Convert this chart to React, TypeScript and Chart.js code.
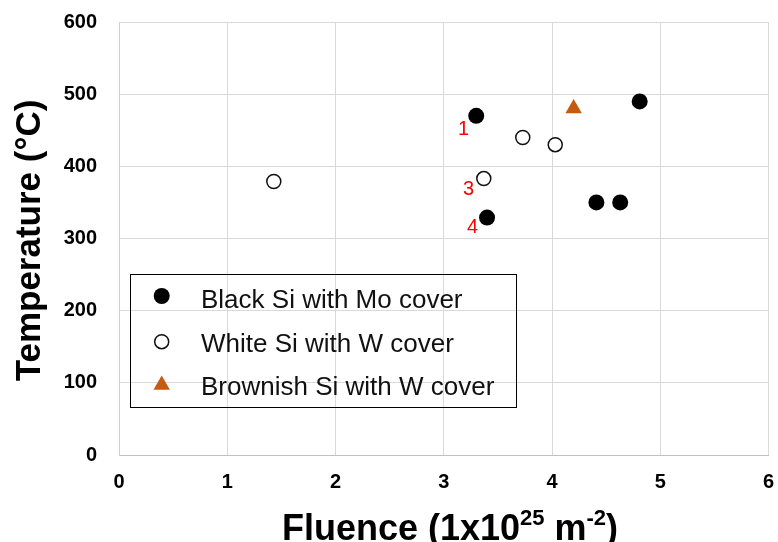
import React, { useEffect, useRef } from 'react';
import { Chart, registerables } from 'chart.js';

Chart.register(...registerables);

// Fluence (1x10^25 m^-2) and temperature (°C) for each sample group
const blackMoX = [3.3, 4.81, 3.4, 4.41, 4.63];
const blackMoY = [470, 490, 329, 350, 350];
const whiteWX = [1.43, 3.73, 4.03, 3.37];
const whiteWY = [379, 440, 430, 383];
const brownWX = [4.2];
const brownWY = [480];

const seriesNames = [
  'Black Si with Mo cover',
  'White Si with W cover',
  'Brownish Si with W cover',
];

const xTickValues = [0, 1, 2, 3, 4, 5, 6];
const yTickValues = [0, 100, 200, 300, 400, 500, 600];

// Sample numbers written next to individual points: [text, series, point index]
const sampleTags: [string, number, number][] = [
  ['1', 0, 0],
  ['3', 1, 3],
  ['4', 0, 2],
];

const FONT = "'Liberation Sans', Arial, sans-serif";
const BROWN = '#c55a11';

const toPoints = (xs: number[], ys: number[]) => xs.map((x, i) => ({ x, y: ys[i] }));

function drawMarker(ctx: CanvasRenderingContext2D, kind: number, x: number, y: number) {
  ctx.save();
  if (kind === 0) {
    ctx.fillStyle = '#000';
    ctx.beginPath();
    ctx.arc(x, y, 8, 0, Math.PI * 2);
    ctx.fill();
  } else if (kind === 1) {
    ctx.fillStyle = '#fff';
    ctx.strokeStyle = '#111';
    ctx.lineWidth = 1.5;
    ctx.beginPath();
    ctx.arc(x, y, 7, 0, Math.PI * 2);
    ctx.fill();
    ctx.stroke();
  } else {
    const r = 9.5;
    ctx.fillStyle = BROWN;
    ctx.beginPath();
    for (let k = 0; k < 3; k++) {
      const a = (k * 2 * Math.PI) / 3;
      const px = x + Math.sin(a) * r;
      const py = y - Math.cos(a) * r;
      if (k === 0) ctx.moveTo(px, py);
      else ctx.lineTo(px, py);
    }
    ctx.closePath();
    ctx.fill();
  }
  ctx.restore();
}

const decorations = {
  id: 'decorations',
  afterDraw(chart: any) {
    const ctx: CanvasRenderingContext2D = chart.ctx;
    const { chartArea } = chart;

    // Sample number tags beside their points
    const tagOffsets: Record<string, [number, number]> = {
      '1': [-12.7, 12.7],
      '3': [-15.3, 9.6],
      '4': [-14.4, 9.4],
    };
    ctx.save();
    ctx.fillStyle = '#ff0000';
    ctx.font = `20px ${FONT}`;
    ctx.textAlign = 'center';
    ctx.textBaseline = 'middle';
    sampleTags.forEach(([text, ds, idx]) => {
      const el = chart.getDatasetMeta(ds).data[idx];
      const [dx, dy] = tagOffsets[text];
      ctx.fillText(text, el.x + dx, el.y + dy + 1);
    });
    ctx.restore();

    // Legend box inside the plot
    const lx = 130.5;
    const ly = 274.5;
    ctx.save();
    ctx.strokeStyle = '#000';
    ctx.lineWidth = 1;
    ctx.strokeRect(lx, ly, 386, 133);
    ctx.fillStyle = '#111';
    ctx.font = `26px ${FONT}`;
    ctx.textAlign = 'left';
    ctx.textBaseline = 'alphabetic';
    const rowMarkerY = [296, 341.7, 385];
    const rowBaseline = [307.5, 352, 394.5];
    seriesNames.forEach((name, i) => {
      drawMarker(ctx, i, 161.7, rowMarkerY[i]);
      ctx.fillText(name, 201, rowBaseline[i]);
    });
    ctx.restore();

    // Y axis title
    ctx.save();
    ctx.fillStyle = '#000';
    ctx.font = `bold 35px ${FONT}`;
    ctx.textAlign = 'center';
    ctx.textBaseline = 'alphabetic';
    ctx.translate(40, (chartArea.top + chartArea.bottom) / 2 + 2);
    ctx.rotate(-Math.PI / 2);
    ctx.fillText('Temperature (°C)', 0, 0);
    ctx.restore();

    // X axis title with superscripts
    ctx.save();
    ctx.fillStyle = '#000';
    ctx.textBaseline = 'alphabetic';
    ctx.textAlign = 'left';
    const big = `bold 36px ${FONT}`;
    const small = `bold 22px ${FONT}`;
    const parts: [string, string, number][] = [
      ['Fluence (1x10', big, 0],
      ['25', small, -15],
      [' m', big, 0],
      ['-2', small, -15],
      [')', big, 0],
    ];
    let total = 0;
    parts.forEach(([t, f]) => {
      ctx.font = f;
      total += ctx.measureText(t).width;
    });
    let x = 450 - total / 2;
    const base = 540;
    parts.forEach(([t, f, dy]) => {
      ctx.font = f;
      ctx.fillText(t, x, base + dy);
      x += ctx.measureText(t).width;
    });
    ctx.restore();
  },
};

// Keep the plot area fixed by dropping the label overhang padding
const noOverhang = (scale: any) => {
  scale.paddingLeft = 0;
  scale.paddingRight = 0;
  scale.paddingTop = 0;
  scale.paddingBottom = 0;
};

export default function App() {
  const canvasRef = useRef<HTMLCanvasElement>(null);

  useEffect(() => {
    const canvas = canvasRef.current;
    if (!canvas) return;
    Chart.defaults.font.family = FONT;

    const tickFont = { family: FONT, size: 20, weight: 'bold' as const };

    const chart = new Chart(canvas, {
      type: 'scatter',
      data: {
        datasets: [
          {
            label: seriesNames[0],
            data: toPoints(blackMoX, blackMoY),
            pointStyle: 'circle',
            pointRadius: 8,
            backgroundColor: '#000',
            borderColor: '#000',
            borderWidth: 0,
          },
          {
            label: seriesNames[1],
            data: toPoints(whiteWX, whiteWY),
            pointStyle: 'circle',
            pointRadius: 7,
            backgroundColor: '#fff',
            borderColor: '#111',
            borderWidth: 1.5,
          },
          {
            label: seriesNames[2],
            data: toPoints(brownWX, brownWY),
            pointStyle: 'triangle',
            pointRadius: 9.5,
            backgroundColor: BROWN,
            borderColor: BROWN,
            borderWidth: 0,
          },
        ],
      },
      options: {
        animation: false,
        responsive: false,
        maintainAspectRatio: false,
        layout: { padding: { top: 22, right: 8, left: 0, bottom: 0 } },
        plugins: {
          legend: { display: false },
          tooltip: { enabled: false },
        },
        scales: {
          x: {
            type: 'linear',
            min: 0,
            max: 6,
            afterBuildTicks: (scale: any) => {
              scale.ticks = xTickValues.map((value) => ({ value }));
            },
            ticks: { color: '#000', font: tickFont, padding: 15, maxRotation: 0 },
            grid: { color: '#d9d9d9', lineWidth: 1, drawTicks: false },
            border: { color: '#bfbfbf', width: 1 },
            afterFit: (scale: any) => {
              scale.height = 87;
              noOverhang(scale);
            },
          },
          y: {
            type: 'linear',
            min: 0,
            max: 600,
            afterBuildTicks: (scale: any) => {
              scale.ticks = yTickValues.map((value) => ({ value }));
            },
            ticks: { color: '#000', font: tickFont, padding: 22 },
            grid: { color: '#d9d9d9', lineWidth: 1, drawTicks: false },
            border: { color: '#d0d0d0', width: 1 },
            afterFit: (scale: any) => {
              scale.width = 119;
              noOverhang(scale);
            },
          },
        },
      },
      plugins: [decorations],
    });

    return () => chart.destroy();
  }, []);

  return (
    <div style={{ position: 'fixed', left: 0, top: 0, width: 778, height: 542, background: '#fff' }}>
      <canvas ref={canvasRef} width={778} height={542} />
    </div>
  );
}
